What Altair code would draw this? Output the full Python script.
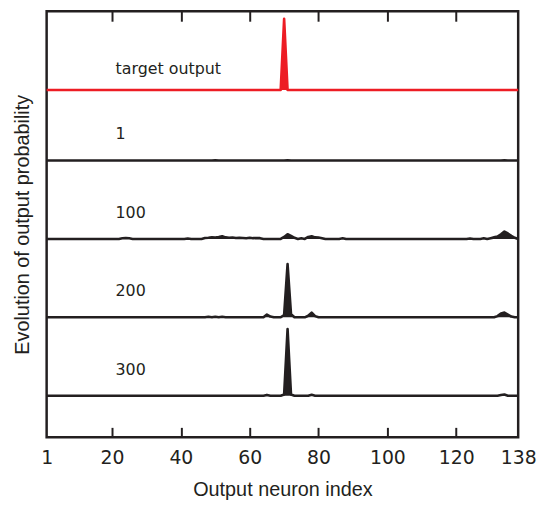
import altair as alt
import pandas as pd

# ---- data ----
x_min, x_max = 1, 138
tick_values = [1, 20, 40, 60, 80, 100, 120, 138]
inner_ticks = [20, 40, 60, 80, 100, 120]

series_names = ["target output", "1", "100", "200", "300"]
series_offsets = [3.9, 3.0, 2.0, 1.0, 0.0]
label_lift = [0.2, 0.27, 0.27, 0.27, 0.27]
label_x = 21

# non-zero points of each trace (index -> probability-height in panel units)
target_idx = [70]
target_val = [0.91]

s1_idx = [50, 71, 134]
s1_val = [0.003, 0.004, 0.005]

s100_idx = [23, 24, 25, 42, 47, 48, 49, 50, 51, 52, 53, 54, 55, 56, 57, 58, 59, 60,
            61, 62, 63, 70, 71, 72, 73, 75, 77, 78, 79, 80, 81, 87,
            124, 128, 130, 131, 132, 133, 134, 135, 136, 137]
s100_val = [0.008, 0.012, 0.008, 0.006, 0.012, 0.015, 0.02, 0.018, 0.025, 0.034, 0.02,
            0.015, 0.018, 0.012, 0.015, 0.013, 0.01, 0.015, 0.01, 0.012, 0.01,
            0.025, 0.06, 0.04, 0.015, 0.008, 0.025, 0.034, 0.02, 0.018, 0.01, 0.008,
            0.006, 0.008, 0.01, 0.02, 0.03, 0.06, 0.095, 0.07, 0.04, 0.015]

s200_idx = [48, 50, 52, 65, 66, 70, 71, 72, 77, 78, 79, 132, 133, 134, 135, 136]
s200_val = [0.006, 0.008, 0.006, 0.035, 0.01, 0.03, 0.68, 0.04, 0.02, 0.06, 0.015,
            0.015, 0.05, 0.06, 0.035, 0.01]

s300_idx = [65, 70, 71, 72, 78, 133, 134]
s300_val = [0.01, 0.015, 0.85, 0.015, 0.012, 0.008, 0.015]

sparse = [(target_idx, target_val), (s1_idx, s1_val), (s100_idx, s100_val),
          (s200_idx, s200_val), (s300_idx, s300_val)]

rows = []
for name, off, (ix, vals) in zip(series_names, series_offsets, sparse):
    lookup = dict(zip(ix, vals))
    for i in range(x_min, x_max + 1):
        v = lookup.get(i, 0.0)
        rows.append({"idx": i, "series": name, "base": off, "top": off + v})
df = pd.DataFrame(rows)

labels = pd.DataFrame({
    "label": series_names,
    "lx": [label_x] * len(series_names),
    "ly": [o + l for o, l in zip(series_offsets, label_lift)],
})

ink = "#231f20"
red = "#ed1c24"

xscale = alt.Scale(domain=[x_min, x_max], nice=False, zero=False)
yscale = alt.Scale(domain=[-0.531, 4.905], nice=False, zero=False)
cscale = alt.Scale(domain=series_names, range=[red, ink, ink, ink, ink])

x_label_axis = alt.Axis(orient="bottom", values=tick_values, ticks=False, domain=False,
                        grid=False, labelPadding=11, labelFontSize=19,
                        labelFont="DejaVu Sans", labelColor=ink, labelFlush=False,
                        title="Output neuron index", titleFont="Liberation Sans",
                        titleFontSize=20, titleFontWeight="normal", titleColor=ink,
                        titlePadding=13)
x_top_ticks = alt.Axis(orient="top", offset=-10, tickSize=10, tickWidth=2, tickColor=ink,
                       values=inner_ticks, labels=False, domain=False, grid=False, title=None)
x_bot_ticks = alt.Axis(orient="bottom", offset=-10, tickSize=10, tickWidth=2, tickColor=ink,
                       values=inner_ticks, labels=False, domain=False, grid=False, title=None)
y_axis = alt.Axis(title="Evolution of output probability", ticks=False, labels=False,
                  domain=False, grid=False, titleFont="Liberation Sans", titleFontSize=20,
                  titleFontWeight="normal", titleColor=ink, titlePadding=14)

area = alt.Chart(df).mark_area(opacity=1, interpolate="linear").encode(
    x=alt.X("idx:Q", scale=xscale, axis=x_label_axis),
    y=alt.Y("top:Q", scale=yscale, axis=y_axis),
    y2="base:Q",
    color=alt.Color("series:N", scale=cscale, legend=None),
)

line = alt.Chart(df).mark_line(strokeWidth=2.6, strokeJoin="round").encode(
    x=alt.X("idx:Q", scale=xscale, axis=x_top_ticks),
    y=alt.Y("top:Q", scale=yscale, axis=None),
    color=alt.Color("series:N", scale=cscale, legend=None),
)

text = alt.Chart(labels).mark_text(align="left", baseline="alphabetic", font="DejaVu Sans",
                                   fontSize=16, color=ink).encode(
    x=alt.X("lx:Q", scale=xscale, axis=x_bot_ticks),
    y=alt.Y("ly:Q", scale=yscale, axis=None),
    text="label:N",
)

chart = alt.layer(area, line, text).resolve_axis(x="independent", y="independent").properties(
    width=476, height=430,
    padding={"left": 5, "top": 0, "right": 0, "bottom": 0},
).configure_view(stroke=ink, strokeWidth=2.5).configure_axis(grid=False)

chart.save("out.html", embed_options={"renderer": "svg", "actions": False})
